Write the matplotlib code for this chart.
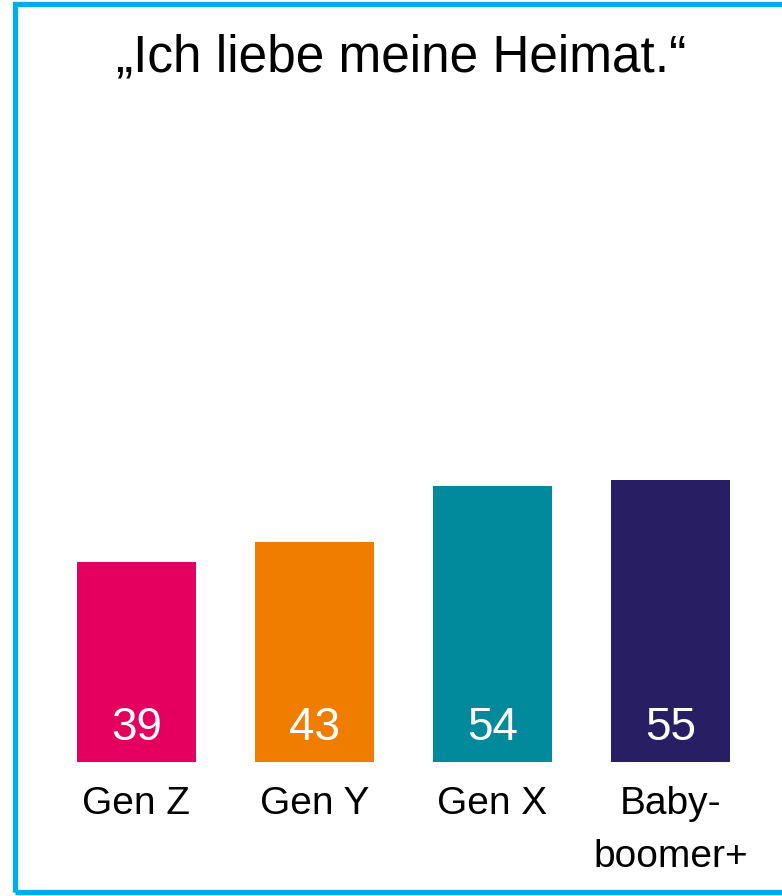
import matplotlib
matplotlib.use("Agg")
import matplotlib.pyplot as plt
from matplotlib.patches import Rectangle

categories = ["Gen Z", "Gen Y", "Gen X", "Baby-\nboomer+"]
values = [39, 43, 54, 55]
colors = ["#e5005f", "#f07d00", "#008a9b", "#281e64"]
title = "\u201eIch liebe meine Heimat.\u201c"

plt.rcParams['font.family'] = ['Liberation Sans', 'DejaVu Sans']

W, H = 782, 896
fig = plt.figure(figsize=(W/100, H/100), dpi=100)
fig.patch.set_facecolor("white")

base_px = 762
ppu = 5.12
ax = fig.add_axes([0, (H-base_px)/H, 1, base_px/H])
x0, sp = 136.5, 178.0
ax.set_xlim(-x0/sp, (W-x0)/sp)
ax.set_ylim(0, base_px/ppu)
ax.axis("off")

xs = list(range(len(categories)))
ax.bar(xs, values, width=119/sp, color=colors)
for x, v in zip(xs, values):
    ax.text(x, 22/ppu, str(v), ha="center", va="baseline", color="white",
            fontsize=33)

for x, c in zip(xs, categories):
    for i, line in enumerate(c.split("\n")):
        ax.text(x, -(52 + 53*i)/ppu, line, ha="center", va="baseline",
                fontsize=28, clip_on=False)

fig.text(401/W, 1-72/H, title, ha="center", va="baseline", fontsize=37)

border = Rectangle((14.5/W, 4.5/H), 1.2, 1-9/H, transform=fig.transFigure,
                   fill=False, edgecolor="#00ade6", linewidth=3.8, clip_on=False)
fig.patches.append(border)

fig.savefig("out.png", dpi=100)
